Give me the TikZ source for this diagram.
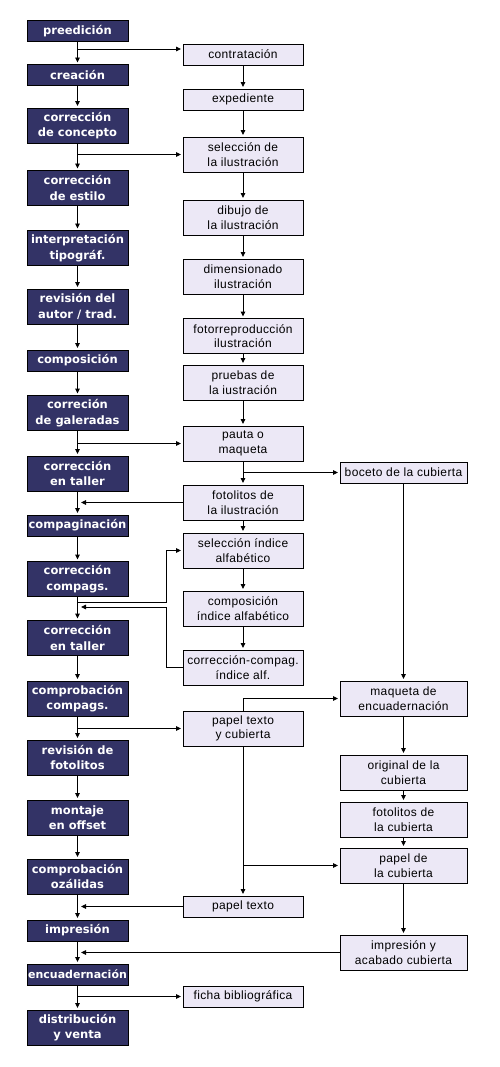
\documentclass[tikz,border=0pt]{standalone}
\usepackage{fontspec}
\setmainfont{Liberation Sans}
\newfontfamily\lfont{DejaVu Sans}
\newfontfamily\mfont[LetterSpace=3]{Liberation Sans}
\usetikzlibrary{arrows.meta}
\definecolor{navy}{RGB}{51,51,102}
\definecolor{lav}{RGB}{236,232,246}
\begin{document}
\begin{tikzpicture}[x=1pt,y=-1pt,
  lbox/.style={draw=black, line width=0.9pt, fill=navy, text=white, minimum width=101pt, inner sep=0pt, align=center, font=\lfont\bfseries\fontsize{11.5}{15.5}\selectfont},
  mbox/.style={draw=black, line width=0.9pt, fill=lav, text=black, minimum width=120pt, inner sep=0pt, align=center, font=\mfont\fontsize{12}{14.5}\selectfont},
  rbox/.style={mbox, minimum width=127pt},
  one/.style={minimum height=21pt},
  two/.style={minimum height=35pt},
  arr0/.style={-{Triangle[length=5pt,width=4.5pt]}, line width=0.9pt},
  arr/.style={arr0, shorten >=1.5pt},
  ln/.style={line width=0.9pt}]
\fill[white] (0,0) rectangle (500,1067);
\useasboundingbox (0,0) rectangle (500,1067);
% left column
\node[lbox,one] (L1) at (77.5,31) {preedición};
\node[lbox,one] (L2) at (77.5,75) {creación};
\node[lbox,two] (L3) at (77.5,125.5) {corrección\\de concepto};
\node[lbox,two] (L4) at (77.5,188) {corrección\\de estilo};
\node[lbox,two] (L5) at (77.5,248) {interpretación\\tipográf.};
\node[lbox,two] (L6) at (77.5,306.5) {revisión del\\autor / trad.};
\node[lbox,one] (L7) at (77.5,360.5) {composición};
\node[lbox,two] (L8) at (77.5,413) {correción\\de galeradas};
\node[lbox,two] (L9) at (77.5,473.5) {corrección\\en taller};
\node[lbox,one] (L10) at (77.5,525.5) {compaginación};
\node[lbox,two] (L11) at (77.5,579) {corrección\\compags.};
\node[lbox,two] (L12) at (77.5,638) {corrección\\en taller};
\node[lbox,two] (L13) at (77.5,698.5) {comprobación\\compags.};
\node[lbox,two] (L14) at (77.5,757.5) {revisión de\\fotolitos};
\node[lbox,two] (L15) at (77.5,817.5) {montaje\\en offset};
\node[lbox,two] (L16) at (77.5,876.5) {comprobación\\ozálidas};
\node[lbox,one] (L17) at (77.5,930.5) {impresión};
\node[lbox,one,font=\lfont\bfseries\fontsize{11}{15}\selectfont] (L18) at (77.5,974.5) {encuadernación};
\node[lbox,two] (L19) at (77.5,1027.5) {distribución\\y venta};
% middle column
\node[mbox,one] (M1) at (243,54.5) {contratación};
\node[mbox,one] (M2) at (243,99.5) {expediente};
\node[mbox,two] (M3) at (243,154.5) {selección de\\la ilustración};
\node[mbox,two] (M4) at (243,217.5) {dibujo de\\la ilustración};
\node[mbox,two] (M5) at (243,276.5) {dimensionado\\ilustración};
\node[mbox,two] (M6) at (243,336) {fotorreproducción\\ilustración};
\node[mbox,two] (M7) at (243,382.5) {pruebas de\\la iustración};
\node[mbox,two] (M8) at (243,443.5) {pauta o\\maqueta};
\node[mbox,two] (M9) at (243,502.5) {fotolitos de\\la ilustración};
\node[mbox,two] (M10) at (243,550.5) {selección índice\\alfabético};
\node[mbox,two] (M11) at (243,608.5) {composición\\índice alfabético};
\node[mbox,two] (M12) at (243,667.5) {corrección-compag.\\índice alf.};
\node[mbox,two] (M13) at (243,728.5) {papel texto\\y cubierta};
\node[mbox,one] (M14) at (243,906.5) {papel texto};
\node[mbox,one] (M15) at (243,996.5) {ficha bibliográfica};
% right column
\node[rbox,one] (R1) at (403.5,472.5) {boceto de la cubierta};
\node[rbox,two] (R2) at (403.5,698.5) {maqueta de\\encuadernación};
\node[rbox,two] (R3) at (403.5,772.5) {original de la\\cubierta};
\node[rbox,two] (R4) at (403.5,819.5) {fotolitos de\\la cubierta};
\node[rbox,two] (R5) at (403.5,865.5) {papel de\\la cubierta};
\node[rbox,two] (R6) at (403.5,952.5) {impresión y\\acabado cubierta};
% vertical chains
\foreach \a/\b in {L1/L2,L2/L3,L3/L4,L4/L5,L5/L6,L6/L7,L7/L8,L8/L9,L9/L10,L10/L11,L11/L12,L12/L13,L13/L14,L14/L15,L15/L16,L16/L17,L17/L18,L18/L19,
  M1/M2,M2/M3,M3/M4,M4/M5,M5/M6,M6/M7,M7/M8,M8/M9,M9/M10,M10/M11,M11/M12,M13/M14,
  R1/R2,R2/R3,R3/R4,R4/R5,R5/R6}
  \draw[arr] (\a.south) -- (\b.north);
% branches
\coordinate (lx) at (81,0);
\coordinate (c1) at (77.5,49);
\draw[arr] (c1) -- (c1 -| M1.west);
\draw[arr] (L3.south |- M3.west) -- (M3.west);
\draw[arr] (L8.south |- M8.west) -- (M8.west);
\draw[arr] (M8.south |- R1.west) -- (R1.west);
\draw[arr0] (M9.west) -- (M9.west -| lx);
\coordinate (k1) at (77.5,602);
\coordinate (k2) at (166,602);
\draw[arr] (k1) -- (k2) |- (M10.west);
\coordinate (k3) at (166,607);
\draw[arr0] (M12.west) -| (k3) -- (k3 -| lx);
\draw[arr] (L13.south |- M13.west) -- (M13.west);
\draw[arr] (M13.north) |- (R2.west);
\draw[arr] (M13.south |- R5.west) -- (R5.west);
\draw[arr0] (M14.west) -- (M14.west -| lx);
\draw[arr0] (R6.west) -- (R6.west -| lx);
\draw[arr] (L18.south |- M15.west) -- (M15.west);
\end{tikzpicture}
\end{document}
